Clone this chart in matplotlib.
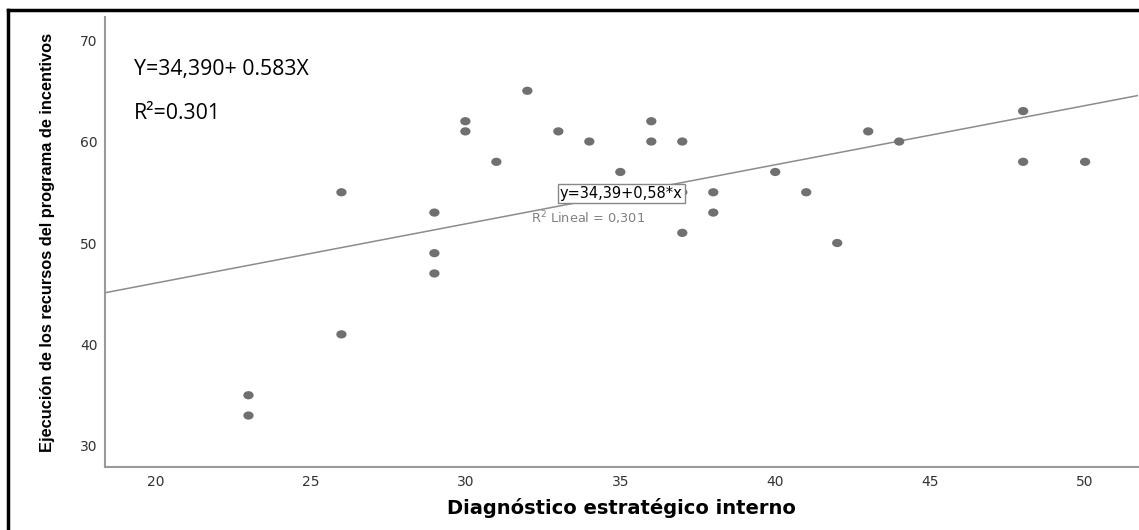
import numpy as np
import matplotlib.pyplot as plt
from matplotlib.path import Path
from matplotlib.transforms import Affine2D
from matplotlib.lines import Line2D

plt.rcParams['font.family'] = 'DejaVu Sans'

# Data
diag_interno = [23, 23, 26, 26, 29, 29, 29, 30, 30, 31, 32, 33, 34, 35, 36, 36,
                37, 37, 37, 38, 38, 40, 41, 42, 43, 44, 48, 48, 50]
ejecucion = [35, 33, 55, 41, 53, 49, 47, 62, 61, 58, 65, 61, 60, 57, 62, 60,
             60, 55, 51, 55, 53, 57, 55, 50, 61, 60, 63, 58, 58]

intercept = 34.39
slope = 0.583

x_ticks = [20, 25, 30, 35, 40, 45, 50]
y_ticks = [30, 40, 50, 60, 70]

# Slightly wide ellipse marker, like the SPSS dots
ellipse = Path.unit_circle().transformed(Affine2D().scale(1.25, 1.0))

fig = plt.figure(figsize=(11.39, 5.30), dpi=100)
ax = fig.add_axes([0.0922, 0.1189, 0.907, 0.849])

ax.scatter(diag_interno, ejecucion, marker=ellipse, s=55, color='#707070',
           edgecolors='none', zorder=3)

xlim = (18.37, 51.71)
xs = np.array(xlim)
ax.plot(xs, intercept + slope * xs, color='#8c8c8c', lw=1.1, zorder=2)

ax.set_xlim(*xlim)
ax.set_ylim(27.93, 72.27)
ax.set_xticks(x_ticks)
ax.set_yticks(y_ticks)
ax.tick_params(length=0, labelsize=10, labelcolor='#333333', pad=5.5)

for side in ['top', 'right']:
    ax.spines[side].set_visible(False)
for side in ['left', 'bottom']:
    ax.spines[side].set_color('#999999')
    ax.spines[side].set_linewidth(1.5)

ax.set_xlabel('Diagnóstico estratégico interno', fontsize=14, fontweight='bold',
              labelpad=7)
ax.set_ylabel('Ejecución de los recursos del programa de incentivos', fontsize=11.8,
              family='Liberation Sans', fontweight='bold', labelpad=18)

# Fit annotation inside the plot
ax.text(35.03, 54.9, 'y=34,39+0,58*x', ha='center', va='center', fontsize=10.5,
        color='black', zorder=5,
        bbox=dict(boxstyle='square,pad=0.15', fc='white', ec='#888888', lw=1))
ax.text(33.96, 52.4, r'R$^2$ Lineal = 0,301', ha='center', va='center',
        fontsize=9.3, color='#808080', zorder=5)

# Equation text in the upper left
ax.text(19.3, 67.1, 'Y=34,390+ 0.583X', ha='left', va='center', fontsize=15.3,
        family=['Open Sans', 'DejaVu Sans'], color='black')
ax.text(19.3, 62.8, 'R²=0.301', ha='left', va='center', fontsize=15.3,
        family=['Open Sans', 'DejaVu Sans'], color='black')

# Outer frame lines (top and left only)
fig.add_artist(Line2D([8 / 1139, 1], [1 - 10 / 530, 1 - 10 / 530],
                      transform=fig.transFigure, color='black', lw=2.5))
fig.add_artist(Line2D([8 / 1139, 8 / 1139], [0, 1 - 10 / 530],
                      transform=fig.transFigure, color='black', lw=2.5))

fig.savefig('out.png', dpi=100)
